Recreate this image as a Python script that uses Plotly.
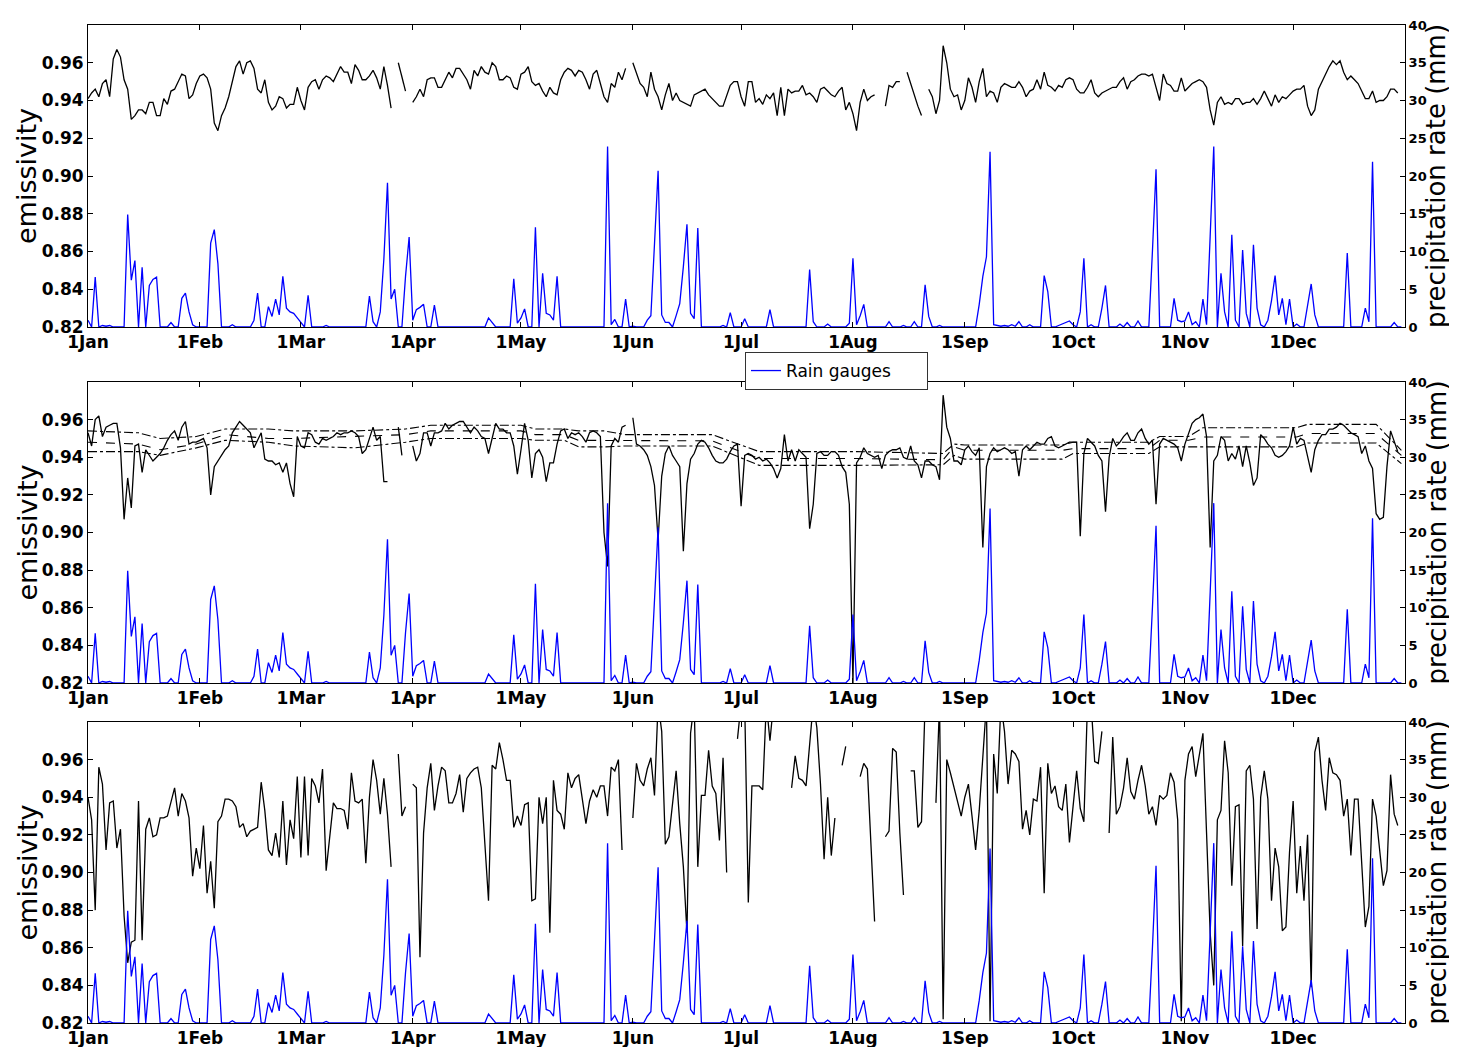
import plotly.graph_objects as go
import pandas as pd

# ---------------- DATA ----------------
month_ticks = ["2010-01-01", "2010-02-01", "2010-03-01", "2010-04-01", "2010-05-01", "2010-06-01",
               "2010-07-01", "2010-08-01", "2010-09-01", "2010-10-01", "2010-11-01", "2010-12-01"]
month_labels = ["1Jan", "1Feb", "1Mar", "1Apr", "1May", "1Jun", "1Jul", "1Aug", "1Sep", "1Oct", "1Nov", "1Dec"]
emis_ticks = [0.82, 0.84, 0.86, 0.88, 0.90, 0.92, 0.94, 0.96]
prec_ticks = [0, 5, 10, 15, 20, 25, 30, 35, 40]

# daily precipitation from rain gauges (mm), Jan..Dec
rain_gauges = (
    [0.9, 0, 6.6, 0, 0.2, 0.1, 0.2, 0, 0, 0, 0, 14.9, 6.2, 8.8, 0, 7.9, 0, 5.5, 6.3, 6.6,
     0, 0, 0, 0.6, 0, 0, 3.8, 4.5, 2.0, 0.3, 0]
    + [0, 0, 0, 11.1, 12.9, 8.4, 0, 0, 0, 0.3, 0, 0, 0, 0, 0, 0.9, 4.5, 0, 0,
       2.7, 1.4, 3.7, 1.6, 6.7, 2.5, 2.0, 1.8, 1.2]
    + [0.6, 0, 4.2, 0, 0, 0, 0, 0.2, 0, 0, 0, 0, 0, 0, 0, 0, 0, 0, 0, 4.1, 0.7, 0, 2.0, 9.0,
       19.1, 3.7, 5.0, 0, 0, 6.7, 11.9]
    + [0.9, 2.3, 2.6, 3.0, 0, 0, 2.9, 0, 0, 0, 0, 0, 0, 0, 0, 0, 0, 0, 0, 0, 0, 1.2, 0.6,
       0, 0, 0, 0, 0, 6.4, 0.5]
    + [1.2, 2.4, 0, 0, 13.2, 0, 7.1, 1.8, 1.6, 0.9, 6.7, 0, 0, 0, 0, 0, 0, 0, 0, 0, 0, 0, 0, 0,
       23.9, 0.3, 1.0, 0, 0, 3.7, 0]
    + [0.1, 0, 0, 0, 0.9, 1.5, 11.0, 20.7, 1.6, 0.6, 0.6, 0, 1.5, 3.1, 8.0, 13.6, 1.8, 1.1, 13.1,
       0, 0, 0, 0, 0, 0, 0.2, 0, 1.9, 0, 0]
    + [0, 1.1, 0, 0, 0, 0, 0, 0, 2.3, 0, 0, 0, 0, 0, 0, 0, 0, 0, 0, 7.6, 0.7, 0, 0, 0, 0.4,
       0, 0, 0, 0, 0, 0.5]
    + [9.1, 0.3, 1.5, 3.0, 0, 0, 0, 0, 0, 0, 0.7, 0, 0, 0, 0.2, 0, 0, 0.7, 0, 0, 5.6, 1.4, 0, 0,
       0.2, 0, 0, 0, 0, 0, 0]
    + [0, 0, 0, 0, 3.0, 6.7, 9.3, 23.2, 0.3, 0.2, 0.1, 0.2, 0.1, 0.3, 0.1, 0.7, 0, 0, 0.3, 0,
       0, 0, 6.8, 4.7, 0, 0, 0.2, 0.4, 0.6, 0.8]
    + [0.3, 0, 2.0, 9.1, 0, 0.3, 0, 0, 2.5, 5.5, 0, 0, 0, 0.4, 0, 0.6, 0, 0, 0.8, 0, 0, 0,
       10.0, 20.9, 0, 0, 0, 0, 3.8, 0.9, 0.7]
    + [0.8, 2.0, 0.3, 0.7, 0, 3.7, 0.3, 12.0, 23.9, 0, 7.1, 2.0, 0, 12.2, 0.9, 0, 10.2, 1.8, 0,
       10.9, 2.5, 0.3, 0, 0.9, 3.5, 6.8, 1.6, 3.8, 0.3, 3.7]
    + [0, 0.4, 0, 0, 3.0, 5.7, 1.6, 0, 0, 0, 0, 0, 0, 0, 0, 9.8, 0, 0, 0, 0, 2.5, 0.7, 21.9,
       0, 0, 0, 0, 0, 0.6, 0, 0]
)

N = None
# panel 1 emissivity
emis_top = (
    [0.941, 0.944, 0.946, 0.942, 0.949, 0.951, 0.942, 0.962, 0.967, 0.963, 0.951, 0.946, 0.930, 0.932,
     0.935, 0.935, 0.933, 0.939, 0.939, 0.932, 0.932, 0.941, 0.938, 0.945, 0.946, 0.950, 0.954, 0.953,
     0.941, 0.943, 0.949]
    + [0.953, 0.954, 0.952, 0.946, 0.928, 0.924, 0.932, 0.936, 0.942, 0.950, 0.958, 0.961, 0.954, 0.960,
       0.961, 0.957, 0.946, 0.944, 0.951, 0.939, 0.935, 0.937, 0.942, 0.941, 0.936, 0.938, 0.938, 0.947]
    + [0.940, 0.935, 0.947, 0.950, 0.951, 0.946, 0.951, 0.953, 0.952, 0.950, 0.954, 0.958, 0.955, 0.955,
       0.949, 0.959, 0.956, 0.951, 0.951, 0.953, 0.956, 0.952, 0.946, 0.958, 0.948, 0.936, N, 0.960,
       0.953, 0.945, N]
    + [0.939, 0.942, 0.946, 0.942, 0.951, 0.952, 0.952, 0.947, 0.947, 0.951, 0.955, 0.952, 0.957, 0.957,
       0.954, 0.951, 0.946, 0.956, 0.953, 0.958, 0.955, 0.954, 0.960, 0.958, 0.951, 0.951, 0.953, 0.952,
       0.947, 0.946]
    + [0.954, 0.955, 0.958, 0.950, 0.948, 0.949, 0.945, 0.942, 0.947, 0.944, 0.943, 0.951, 0.955, 0.957,
       0.956, 0.953, 0.956, 0.955, 0.951, 0.946, 0.954, 0.956, 0.949, 0.942, 0.939, 0.949, 0.947, 0.955,
       0.951, 0.957, N]
    + [0.960, 0.955, 0.949, 0.947, 0.942, 0.955, 0.946, 0.942, 0.935, 0.943, 0.949, 0.940, 0.944, 0.940,
       0.939, 0.938, 0.937, 0.943, 0.944, 0.945, 0.946, 0.943, 0.941, 0.939, 0.937, 0.937, 0.942, 0.948,
       0.950, 0.950]
    + [0.942, 0.937, 0.950, 0.950, 0.939, 0.941, 0.938, 0.943, 0.941, 0.944, 0.932, 0.947, 0.932, 0.946,
       0.944, 0.945, 0.945, 0.948, 0.943, 0.944, 0.942, 0.939, 0.946, 0.947, 0.945, 0.943, 0.942, 0.945,
       0.947, 0.935, 0.939]
    + [0.933, 0.924, 0.939, 0.946, 0.940, 0.942, 0.943, N, N, 0.937, 0.948, 0.947, 0.950, 0.950, N,
       0.955, 0.949, 0.942, 0.937, 0.932, N, 0.946, 0.942, 0.933, 0.940, 0.969, 0.960, 0.946, 0.942,
       0.943, 0.935]
    + [0.940, 0.952, 0.947, 0.939, 0.950, 0.957, 0.942, 0.945, 0.944, 0.939, 0.947, 0.949, 0.948, 0.947,
       0.947, 0.950, 0.947, 0.942, 0.945, 0.946, 0.951, 0.946, 0.955, 0.948, 0.947, 0.945, 0.948, 0.947,
       0.951, 0.952]
    + [0.951, 0.946, 0.944, 0.944, 0.947, 0.951, 0.944, 0.942, 0.944, 0.945, 0.946, 0.947, 0.947, 0.950,
       0.952, 0.946, 0.950, 0.951, 0.953, 0.954, 0.954, 0.953, 0.954, 0.947, 0.940, 0.954, 0.949, 0.948,
       0.945, 0.945, 0.952]
    + [0.945, 0.947, 0.949, 0.950, 0.951, 0.950, 0.947, 0.935, 0.927, 0.939, 0.942, 0.938, 0.939, 0.938,
       0.941, 0.941, 0.938, 0.939, 0.939, 0.941, 0.938, 0.941, 0.945, 0.941, 0.937, 0.943, 0.939, 0.942,
       0.941, 0.943]
    + [0.945, 0.946, 0.946, 0.948, 0.937, 0.932, 0.935, 0.946, 0.950, 0.954, 0.958, 0.961, 0.959, 0.961,
       0.955, 0.951, 0.953, 0.951, 0.949, 0.945, 0.941, 0.941, 0.945, 0.939, 0.940, 0.940, 0.942, 0.946,
       0.946, 0.944, N]
)

# panel 2 emissivity
emis_mid = (
    [0.953, 0.946, 0.960, 0.962, 0.951, 0.956, 0.957, 0.958, 0.958, 0.945, 0.907, 0.929, 0.913, 0.946,
     0.947, 0.932, 0.944, 0.941, 0.938, 0.940, 0.942, 0.945, 0.949, 0.952, 0.954, 0.949, 0.956, 0.959,
     0.947, 0.948, 0.948]
    + [0.949, 0.950, 0.945, 0.920, 0.935, 0.938, 0.941, 0.944, 0.946, 0.953, 0.956, 0.959, 0.957, 0.955,
       0.953, 0.945, 0.949, 0.953, 0.939, 0.938, 0.938, 0.936, 0.937, 0.932, 0.937, 0.926, 0.919, 0.951]
    + [0.946, 0.945, 0.953, 0.952, 0.948, 0.947, 0.950, 0.949, 0.950, 0.951, 0.953, 0.952, 0.953, 0.953,
       0.954, 0.953, 0.951, 0.942, 0.944, 0.950, 0.956, 0.949, 0.951, 0.927, 0.927, N, N, 0.956, 0.941,
       N, N]
    + [0.946, 0.938, 0.942, 0.953, 0.953, 0.946, 0.953, 0.953, 0.954, 0.958, 0.955, 0.957, 0.958, 0.959,
       0.959, 0.956, 0.953, 0.956, 0.954, 0.951, 0.950, 0.942, 0.950, 0.958, 0.955, 0.955, 0.953, 0.953,
       0.946, 0.931]
    + [0.944, 0.958, 0.949, 0.929, 0.942, 0.944, 0.940, 0.927, 0.937, 0.937, 0.947, 0.954, 0.955, 0.950,
       0.953, 0.952, 0.953, 0.951, 0.948, 0.953, 0.954, 0.953, 0.951, 0.900, 0.882, 0.946, 0.950, 0.948,
       0.956, 0.957, N]
    + [0.961, 0.947, 0.946, 0.944, 0.941, 0.935, 0.925, 0.896, 0.930, 0.942, 0.946, 0.941, 0.938, 0.935,
       0.890, 0.926, 0.939, 0.942, 0.947, 0.949, 0.948, 0.945, 0.941, 0.938, 0.937, 0.937, 0.939, 0.943,
       0.946, 0.947]
    + [0.914, 0.941, 0.942, 0.941, 0.939, 0.940, 0.938, 0.939, 0.937, 0.934, 0.929, 0.934, 0.952, 0.938,
       0.944, 0.938, 0.944, 0.942, 0.940, 0.902, 0.915, 0.942, 0.943, 0.941, 0.941, 0.943, 0.943, 0.941,
       0.935, 0.932, 0.915]
    + [0.820, 0.937, 0.940, 0.945, 0.942, 0.941, 0.940, 0.941, 0.934, 0.941, 0.943, 0.944, 0.944, 0.945,
       0.940, 0.939, 0.946, 0.938, 0.936, 0.929, 0.938, 0.938, 0.936, 0.935, 0.928, 0.973, 0.956, 0.950,
       0.938, 0.938, 0.936]
    + [0.944, 0.946, 0.943, 0.941, 0.945, 0.892, 0.935, 0.942, 0.945, 0.943, 0.944, 0.945, 0.944, 0.942,
       0.943, 0.930, 0.944, 0.946, 0.944, 0.946, 0.948, 0.947, 0.947, 0.950, 0.951, 0.946, 0.945, 0.946,
       0.947, 0.948]
    + [0.948, 0.948, 0.898, 0.942, 0.950, 0.948, 0.946, 0.941, 0.938, 0.911, 0.940, 0.950, 0.946, 0.948,
       0.951, 0.953, 0.949, 0.949, 0.953, 0.955, 0.950, 0.947, 0.949, 0.915, 0.947, 0.950, 0.949, 0.948,
       0.947, 0.945, 0.938]
    + [0.947, 0.953, 0.958, 0.960, 0.961, 0.963, 0.951, 0.892, 0.938, 0.941, 0.951, 0.949, 0.938, 0.942,
       0.939, 0.946, 0.935, 0.946, 0.937, 0.925, 0.929, 0.952, 0.950, 0.947, 0.945, 0.941, 0.940, 0.941,
       0.943, 0.946]
    + [0.956, 0.947, 0.950, 0.949, 0.940, 0.932, 0.944, 0.949, 0.952, 0.952, 0.955, 0.955, 0.956, 0.958,
       0.957, 0.955, 0.953, 0.952, 0.951, 0.942, 0.946, 0.938, 0.934, 0.910, 0.907, 0.908, 0.935, 0.954,
       0.948, 0.943, N]
)

# panel 2 reference statistics (upper / mean / lower), given at break-point days
band_days = [0, 14, 20, 30, 38, 50, 57, 74, 88, 95, 120, 124, 132, 136, 143, 149, 173, 186, 213, 237,
             240, 243, 270, 273, 294, 297, 305, 309, 335, 338, 357, 364]
band_upper = [0.954, 0.953, 0.950, 0.951, 0.955, 0.955, 0.954, 0.954, 0.955, 0.957, 0.957, 0.955, 0.955,
              0.954, 0.954, 0.952, 0.952, 0.943, 0.943, 0.942, 0.947, 0.9465, 0.9465, 0.948, 0.948,
              0.951, 0.951, 0.9557, 0.9557, 0.9575, 0.9575, 0.9437]
band_mean = [0.948, 0.947, 0.944, 0.947, 0.952, 0.950, 0.950, 0.951, 0.952, 0.954, 0.954, 0.952, 0.952,
             0.949, 0.949, 0.9487, 0.9487, 0.9393, 0.9393, 0.9387, 0.9455, 0.9437, 0.9437, 0.9446,
             0.9446, 0.949, 0.949, 0.9508, 0.9508, 0.9526, 0.9526, 0.941]
band_lower = [0.943, 0.943, 0.941, 0.945, 0.949, 0.948, 0.946, 0.945, 0.948, 0.950, 0.950, 0.949, 0.949,
              0.9455, 0.9455, 0.946, 0.946, 0.9357, 0.9357, 0.936, 0.941, 0.939, 0.939, 0.942, 0.942,
              0.9455, 0.9455, 0.9455, 0.9455, 0.9476, 0.9476, 0.9366]

# panel 3 emissivity
emis_bot = (
    [0.940, 0.928, 0.880, 0.956, 0.947, 0.912, 0.937, 0.938, 0.913, 0.923, 0.877, 0.852, 0.863, 0.864,
     0.938, 0.864, 0.923, 0.929, 0.919, 0.920, 0.929, 0.929, 0.930, 0.937, 0.945, 0.930, 0.942, 0.938,
     0.929, 0.898, 0.913]
    + [0.902, 0.925, 0.889, 0.906, 0.881, 0.927, 0.930, 0.939, 0.939, 0.938, 0.935, 0.924, 0.926, 0.919,
       0.922, 0.923, 0.924, 0.948, 0.933, 0.912, 0.909, 0.921, 0.908, 0.938, 0.904, 0.928, 0.918, 0.951]
    + [0.908, 0.951, 0.909, 0.950, 0.946, 0.937, 0.955, 0.901, 0.921, 0.937, 0.934, 0.934, 0.933, 0.923,
       0.953, 0.938, 0.937, 0.939, 0.905, 0.940, 0.960, 0.949, 0.931, 0.950, 0.931, 0.903, N, 0.963,
       0.930, 0.935, N]
    + [0.947, 0.945, 0.855, 0.921, 0.945, 0.958, 0.933, 0.946, 0.956, 0.954, 0.937, 0.937, 0.942, 0.952,
       0.932, 0.950, 0.953, 0.955, 0.956, 0.945, 0.915, 0.885, 0.957, 0.955, 0.969, 0.960, 0.949, 0.949,
       0.924, 0.930]
    + [0.925, 0.936, 0.937, 0.885, 0.886, 0.940, 0.926, 0.940, 0.868, 0.949, 0.933, 0.931, 0.923, 0.953,
       0.945, 0.950, 0.952, 0.940, 0.926, 0.938, 0.944, 0.940, 0.946, 0.946, 0.930, 0.956, 0.954, 0.960,
       0.912, N, N]
    + [0.929, 0.958, 0.949, 0.946, 0.955, 0.961, 0.941, 0.990, 0.975, 0.915, 0.919, 0.935, 0.954, 0.926,
       0.903, 0.868, 0.974, 0.990, 0.903, 0.941, 0.941, 0.965, 0.946, 0.942, 0.917, 0.961, 0.900, N, N,
       0.971]
    + [0.990, 0.990, 0.884, 0.946, 0.946, 0.946, 0.944, 0.990, 0.970, 0.990, 0.985, N, N, N, 0.945,
       0.962, 0.950, 0.949, 0.946, 0.965, 0.990, 0.977, 0.947, 0.907, 0.940, 0.909, 0.929, N, 0.957,
       0.967, N]
    + [N, N, 0.951, 0.958, 0.955, 0.916, 0.874, N, N, 0.919, 0.922, 0.966, 0.964, 0.921, 0.888, N,
       0.954, 0.954, 0.924, 0.927, 0.990, N, N, 0.937, 0.990, 0.822, 0.960, 0.953, 0.945, 0.938, 0.930]
    + [0.940, 0.947, 0.930, 0.912, 0.933, 0.960, 0.990, 0.821, 0.963, 0.942, 0.990, 0.975, 0.947, 0.965,
       0.963, 0.959, 0.923, 0.933, 0.920, 0.939, 0.938, 0.956, 0.889, 0.958, 0.942, 0.946, 0.935, 0.933,
       0.947, 0.916]
    + [0.935, 0.954, 0.934, 0.927, 0.990, 0.990, 0.959, 0.958, 0.975, N, 0.921, 0.972, 0.931, 0.935,
       0.945, 0.961, 0.943, 0.939, 0.949, 0.957, 0.946, 0.931, 0.935, 0.925, 0.941, 0.939, 0.941, 0.953,
       0.948, 0.928, 0.821]
    + [0.949, 0.963, 0.967, 0.951, 0.962, 0.974, 0.921, 0.868, 0.840, 0.928, 0.933, 0.970, 0.953, 0.893,
       0.935, 0.936, 0.861, 0.954, 0.957, 0.939, 0.870, 0.940, 0.954, 0.939, 0.885, 0.913, 0.903, 0.869,
       0.871, 0.911]
    + [0.938, 0.889, 0.914, 0.885, 0.920, 0.839, 0.964, 0.972, 0.949, 0.933, 0.961, 0.953, 0.952, 0.949,
       0.930, 0.939, 0.909, 0.939, 0.939, 0.903, 0.871, 0.882, 0.939, 0.930, 0.913, 0.893, 0.901, 0.952,
       0.931, 0.925, N]
)

# ---------------- FIGURE ----------------
dates = pd.date_range("2010-01-01", periods=len(rain_gauges), freq="D")
band_dates = [dates[d] for d in band_days]

OFF = 8                      # page body margin of the browser
W, H = 1457 - OFF, 1047 - OFF


def px(x):
    return (x - OFF) / W


def py(y):
    return 1 - (y - OFF) / H


x0, x1 = px(88), px(1405)
panels = [(25, 327), (382, 683), (722, 1023)]  # target pixel top/bottom in the window
domains = [[py(b), py(t)] for t, b in panels]

BLACK = "black"
BLUE = "#0000ff"
fig = go.Figure()

emis_series = [emis_top, emis_mid, emis_bot]
for i in range(3):
    xa = "x" if i == 0 else f"x{i + 1}"
    ya_left = "y" if i == 0 else f"y{2 * i + 1}"
    ya_right = f"y{2 * i + 2}"
    fig.add_trace(go.Scatter(x=dates, y=emis_series[i], mode="lines", xaxis=xa, yaxis=ya_left,
                             line=dict(color=BLACK, width=1.3), showlegend=False, connectgaps=False))
    if i == 1:
        for vals, dash in [(band_upper, "dashdot"), (band_mean, "dash"), (band_lower, "dashdot")]:
            fig.add_trace(go.Scatter(x=band_dates, y=vals, mode="lines", xaxis=xa, yaxis=ya_left,
                                     line=dict(color=BLACK, width=1.1, dash=dash), showlegend=False))
    fig.add_trace(go.Scatter(x=dates, y=rain_gauges, mode="lines", xaxis=xa, yaxis=ya_right,
                             line=dict(color=BLUE, width=1.3), name="Rain gauges",
                             showlegend=(i == 1)))

tick_font = dict(family="DejaVu Sans", size=17, color="black", weight="bold")
right_font = dict(family="DejaVu Sans", size=13, color="black", weight="bold")

layout = dict(
    width=W, height=H, margin=dict(l=0, r=0, t=0, b=0, autoexpand=False),
    paper_bgcolor="white", plot_bgcolor="white",
    font=dict(family="DejaVu Sans", color="black"),
    legend=dict(x=px(745), y=py(352), xanchor="left", yanchor="top", orientation="h",
                bgcolor="white", bordercolor="#333", borderwidth=1,
                entrywidth=136, entrywidthmode="pixels",
                font=dict(family="DejaVu Sans", size=17, color="black")),
)
for i in range(3):
    xkey = "xaxis" if i == 0 else f"xaxis{i + 1}"
    ykl = "yaxis" if i == 0 else f"yaxis{2 * i + 1}"
    ykr = f"yaxis{2 * i + 2}"
    xref = "x" if i == 0 else f"x{i + 1}"
    yl_ref = "y" if i == 0 else f"y{2 * i + 1}"
    layout[xkey] = dict(domain=[x0, x1], anchor=yl_ref, type="date", automargin=False,
                        range=["2010-01-01", "2011-01-01"],
                        tickmode="array", tickvals=month_ticks, ticktext=month_labels,
                        ticks="inside", ticklen=5, tickcolor="black",
                        showline=True, linecolor="black", linewidth=1, mirror="ticks",
                        showgrid=False, zeroline=False, tickfont=tick_font)
    layout[ykl] = dict(domain=domains[i], anchor=xref, range=[0.82, 0.98], automargin=False,
                       tickmode="array", tickvals=emis_ticks,
                       ticktext=[f"{v:.2f}" for v in emis_ticks],
                       ticks="inside", ticklen=5, tickcolor="black",
                       showline=True, linecolor="black", linewidth=1,
                       showgrid=False, zeroline=False, tickfont=tick_font)
    layout[ykr] = dict(overlaying=yl_ref, anchor=xref, side="right", range=[0, 40], automargin=False,
                       tickmode="array", tickvals=prec_ticks,
                       ticks="inside", ticklen=5, tickcolor="black",
                       showline=True, linecolor="black", linewidth=1,
                       showgrid=False, zeroline=False, tickfont=right_font)

fig.update_layout(**layout)

annotations = []
for t, b in panels:
    yc = py((t + b) / 2)
    annotations.append(dict(text="emissivity", x=px(27), y=yc, xref="paper", yref="paper",
                            showarrow=False, textangle=-90, xanchor="center", yanchor="middle",
                            font=dict(family="DejaVu Sans", size=27, color="black")))
    annotations.append(dict(text="precipitation rate (mm)", x=px(1436), y=yc, xref="paper", yref="paper",
                            showarrow=False, textangle=-90, xanchor="center", yanchor="middle",
                            font=dict(family="DejaVu Sans", size=26, color="black")))
fig.update_layout(annotations=annotations)

fig.write_html("out.html")
